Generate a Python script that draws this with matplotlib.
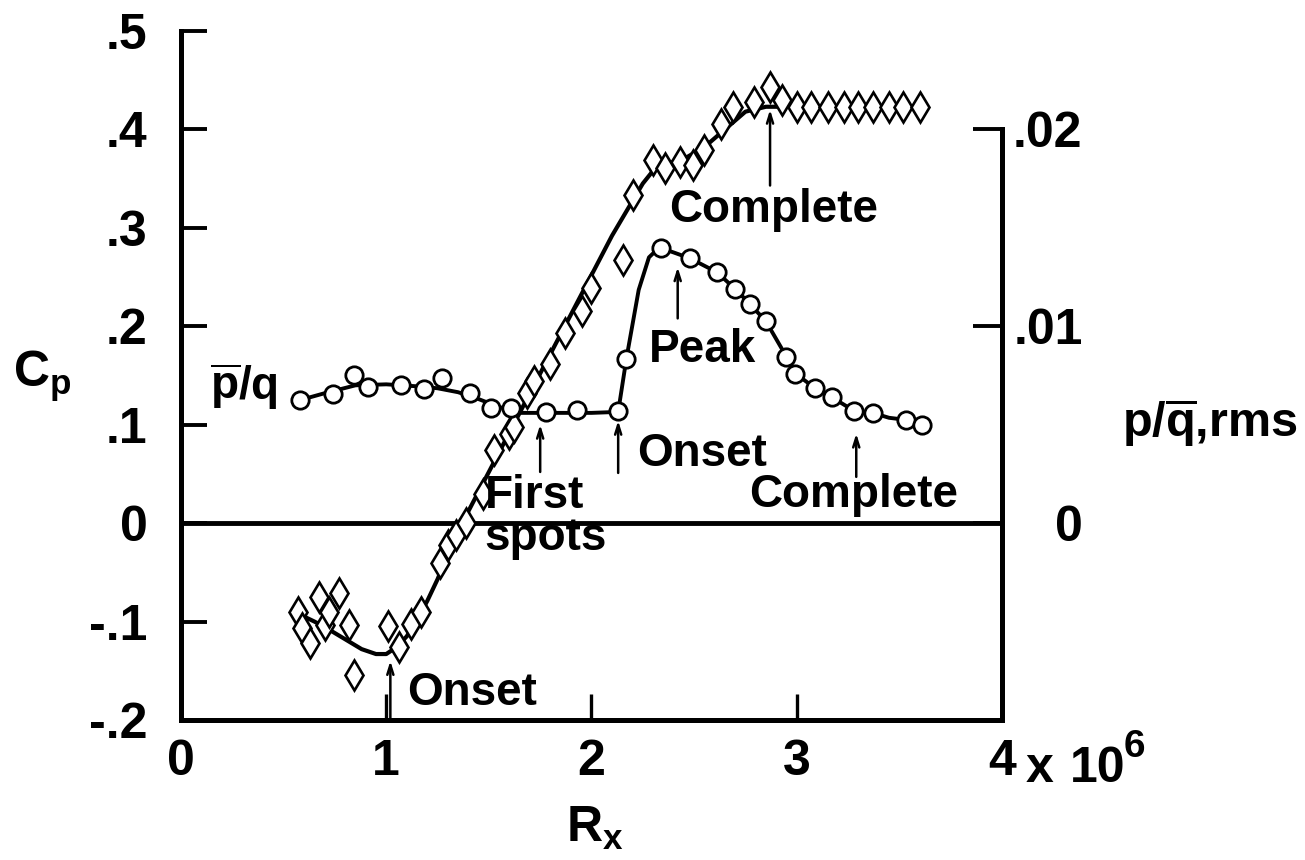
import matplotlib
matplotlib.use('Agg')
import matplotlib.pyplot as plt

plt.rcParams['font.family'] = ['Liberation Sans', 'DejaVu Sans']
plt.rcParams['font.weight'] = 'bold'
plt.rcParams['mathtext.fontset'] = 'custom'
plt.rcParams['mathtext.rm'] = 'Liberation Sans:bold'
plt.rcParams['mathtext.it'] = 'Liberation Sans:bold'
plt.rcParams['mathtext.bf'] = 'Liberation Sans:bold'

# Cp data (diamonds), Rx in units of 1e6
cp_x = [0.57, 0.59, 0.63, 0.67, 0.70, 0.72, 0.77, 0.82, 0.845, 1.01, 1.06, 1.12, 1.17,
        1.26, 1.30, 1.34, 1.39, 1.47, 1.524, 1.597, 1.621, 1.686, 1.718, 1.80, 1.872,
        1.953, 2.00, 2.155, 2.204, 2.30, 2.36, 2.43, 2.495, 2.55, 2.63, 2.69, 2.79,
        2.87, 2.93, 3.00, 3.07, 3.15, 3.23, 3.30, 3.37, 3.45, 3.52, 3.60]
cp_y = [-0.090, -0.107, -0.122, -0.075, -0.103, -0.090, -0.071, -0.104, -0.154, -0.105,
        -0.126, -0.102, -0.090, -0.041, -0.022, -0.012, 0.000, 0.030, 0.074, 0.091,
        0.098, 0.132, 0.144, 0.162, 0.193, 0.216, 0.239, 0.267, 0.333, 0.369, 0.361,
        0.367, 0.364, 0.379, 0.405, 0.423, 0.428, 0.443, 0.430, 0.423, 0.423, 0.423,
        0.423, 0.423, 0.423, 0.423, 0.423, 0.423]

# faired Cp curve
cp_line_x = [0.58, 0.65, 0.72, 0.80, 0.88, 0.95, 1.00, 1.05, 1.10, 1.15, 1.20, 1.25,
             1.30, 1.37, 1.50, 1.70, 1.90, 2.10, 2.25, 2.30, 2.35, 2.45, 2.55, 2.65,
             2.75, 2.85, 3.00, 3.60]
cp_line_y = [-0.093, -0.100, -0.108, -0.118, -0.128, -0.133, -0.133, -0.126, -0.115,
             -0.098, -0.079, -0.057, -0.032, 0.000, 0.052, 0.132, 0.212, 0.292, 0.345,
             0.358, 0.364, 0.370, 0.382, 0.400, 0.418, 0.423, 0.423, 0.423]

# rms pressure (circles), right axis
rms_x = [0.578, 0.74, 0.845, 0.91, 1.07, 1.184, 1.27, 1.41, 1.51, 1.607, 1.78, 1.93,
         2.13, 2.17, 2.34, 2.48, 2.61, 2.70, 2.77, 2.85, 2.95, 2.99, 3.09, 3.17, 3.28,
         3.37, 3.53, 3.61]
rms_y = [0.00625, 0.00655, 0.00750, 0.00690, 0.00700, 0.00680, 0.00735, 0.00660,
         0.00585, 0.00585, 0.00565, 0.00575, 0.00570, 0.00835, 0.01395, 0.01345,
         0.01275, 0.01190, 0.01115, 0.01025, 0.00845, 0.00755, 0.00685, 0.00640,
         0.00570, 0.00560, 0.00525, 0.00500]

rms_line_x = [0.58, 0.70, 0.85, 1.00, 1.15, 1.25, 1.35, 1.45, 1.55, 1.65, 1.80, 2.00,
              2.13, 2.17, 2.23, 2.28, 2.33, 2.40, 2.48, 2.61, 2.70, 2.77, 2.85, 2.95,
              3.00, 3.09, 3.17, 3.28, 3.37, 3.45, 3.53, 3.61]
rms_line_y = [0.00625, 0.00660, 0.00700, 0.00705, 0.00695, 0.00685, 0.00665, 0.00630,
              0.00590, 0.00560, 0.00560, 0.00560, 0.00565, 0.00835, 0.01185, 0.01350,
              0.01400, 0.01375, 0.01345, 0.01275, 0.01190, 0.01115, 0.01025, 0.00845,
              0.00755, 0.00685, 0.00640, 0.00570, 0.00560, 0.00535, 0.00525, 0.00500]

# arrows: x, tail, head (Cp units)
arrow_x = [1.02, 1.75, 2.13, 2.42, 2.87, 3.29]
arrow_y0 = [-0.198, 0.052, 0.051, 0.208, 0.343, 0.047]
arrow_y1 = [-0.140, 0.100, 0.104, 0.260, 0.420, 0.091]

notes = ['Onset', 'First', 'spots', 'Onset', 'Peak', 'Complete', 'Complete']
note_x = [1.10, 1.48, 1.48, 2.22, 2.28, 2.38, 2.77]
note_y = [-0.185, 0.0152, -0.0274, 0.058, 0.1636, 0.306, 0.0163]

fig = plt.figure(figsize=(13.05, 8.6), dpi=100)
ax = fig.add_axes([0.1387, 0.1628, 0.6291, 0.8012])
ax2 = ax.twinx()

ax.set_xlim(0, 4)
ax.set_ylim(-0.2, 0.5)
ax2.set_ylim(-0.01, 0.025)

ax.axhline(0, color='k', lw=3.5, zorder=1)
ax.plot(cp_line_x, cp_line_y, 'k-', lw=3, zorder=2)
ax.plot(cp_x, cp_y, ls='none', marker='d', ms=15, mfc='white', mec='k', mew=1.9, zorder=3)
ax2.plot(rms_line_x, rms_line_y, 'k-', lw=2.8, zorder=2)
ax2.plot(rms_x, rms_y, ls='none', marker='o', ms=12.5, mfc='white', mec='k', mew=2.0, zorder=4)

for x, y0, y1 in zip(arrow_x, arrow_y0, arrow_y1):
    ax.annotate('', xy=(x, y1), xytext=(x, y0),
                arrowprops=dict(arrowstyle='->,head_length=0.7,head_width=0.22',
                                lw=1.8, color='k', shrinkA=0, shrinkB=0))

for t, x, y in zip(notes, note_x, note_y):
    ax.text(x, y, t, fontsize=33, fontweight='bold', ha='left', va='baseline')

ax.text(0.14, 0.125, r'$\overline{p}$/q', fontsize=33, ha='left', va='baseline')

# spines
for s in ['top', 'right']:
    ax.spines[s].set_visible(False)
for s in ['top', 'left', 'bottom']:
    ax2.spines[s].set_visible(False)
ax.spines['left'].set_linewidth(3.6)
ax.spines['bottom'].set_linewidth(3.6)
ax2.spines['right'].set_linewidth(3.6)
ax2.spines['right'].set_bounds(-0.01, 0.02)

ax.set_xticks([0, 1, 2, 3, 4], ['0', '1', '2', '3', '4'])
ax.set_yticks([-0.2, -0.1, 0, 0.1, 0.2, 0.3, 0.4, 0.5],
              ['-.2', '-.1', '0', '.1', '.2', '.3', '.4', '.5'])
ax.tick_params(axis='x', direction='in', length=19, width=2.4, pad=14, labelsize=36)
ax.tick_params(axis='y', direction='in', length=19, width=2.8, pad=24, labelsize=36)
ax2.set_yticks([0, 0.01, 0.02], ['0', '.01', '.02'], ha='right')
ax2.tick_params(axis='y', direction='in', length=21, width=2.8, pad=58, labelsize=36)

fig.text(13 / 1305, (860 - 387) / 860, r'C$_{p}$', fontsize=36, va='baseline')
fig.text(566 / 1305, (860 - 842) / 860, r'R$_{x}$', fontsize=36, va='baseline')
fig.text(1122 / 1305, (860 - 437) / 860, r'p/$\overline{q}$,rms', fontsize=35, va='baseline')
fig.text(1026 / 1305, (860 - 782) / 860, 'x', fontsize=36, va='baseline')
fig.text(1070 / 1305, (860 - 782) / 860, '10', fontsize=36, va='baseline')
fig.text(1124 / 1305, (860 - 757) / 860, '6', fontsize=28, va='baseline')

fig.savefig('out.png', dpi=100)
